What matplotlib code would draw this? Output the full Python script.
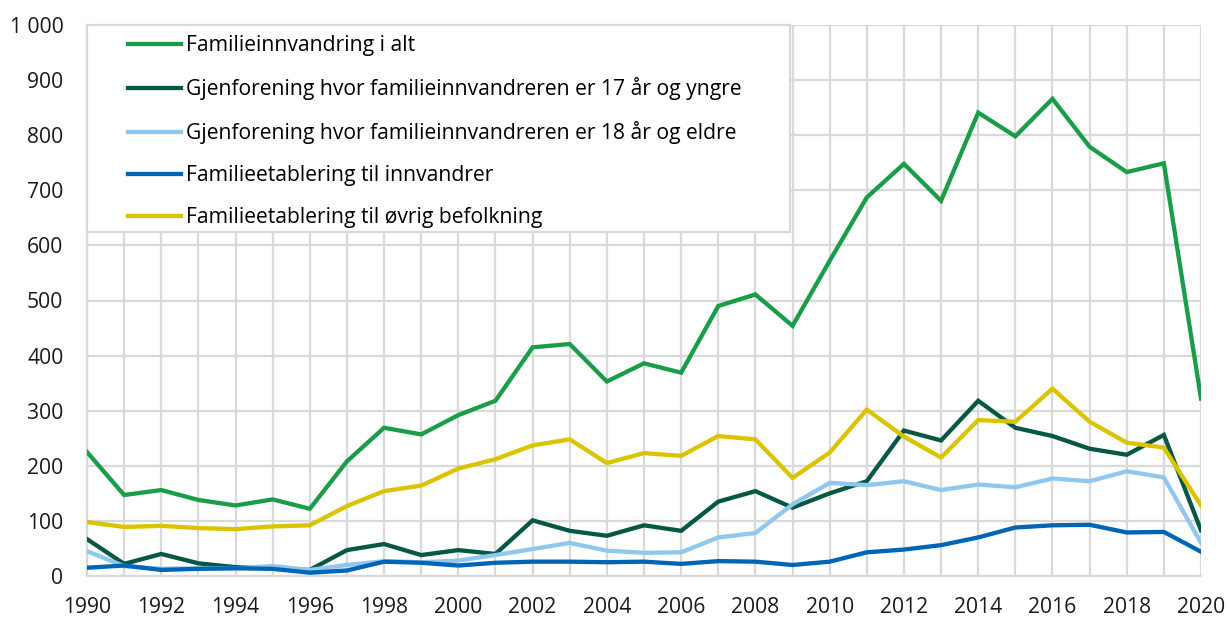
import matplotlib.pyplot as plt
from matplotlib.patches import Rectangle
from matplotlib.lines import Line2D

plt.rcParams['font.family'] = ['Open Sans', 'DejaVu Sans']

years = list(range(1990, 2021))

total = [225, 147, 156, 138, 128, 139, 122, 208, 269, 257, 292, 318, 415, 421, 353,
         386, 369, 490, 511, 454, 572, 687, 748, 681, 841, 798, 866, 779, 733, 749, 322]
under18 = [67, 22, 40, 23, 16, 14, 11, 47, 58, 38, 47, 40, 101, 82, 73,
           92, 82, 135, 154, 124, 150, 172, 264, 246, 318, 269, 254, 231, 220, 256, 83]
over18 = [45, 18, 13, 14, 14, 18, 11, 20, 27, 25, 28, 38, 49, 60, 46,
          42, 43, 70, 78, 130, 169, 165, 172, 156, 166, 161, 177, 172, 190, 179, 60]
to_immigrant = [15, 19, 11, 13, 14, 13, 6, 10, 26, 24, 19, 24, 26, 26, 25,
                26, 22, 27, 26, 20, 26, 43, 48, 56, 70, 88, 92, 93, 79, 80, 44]
to_rest = [98, 89, 91, 87, 85, 90, 92, 127, 154, 164, 195, 212, 237, 248, 205,
           223, 218, 254, 248, 178, 224, 302, 253, 215, 283, 280, 340, 280, 242, 233, 128]

labels = ['Familieinnvandring i alt',
          'Gjenforening hvor familieinnvandreren er 17 år og yngre',
          'Gjenforening hvor familieinnvandreren er 18 år og eldre',
          'Familieetablering til innvandrer',
          'Familieetablering til øvrig befolkning']
colors = ['#1a9d49', '#075745', '#90c7ee', '#0065b5', '#dcc300']
series = [total, under18, over18, to_immigrant, to_rest]

fig = plt.figure(figsize=(12.29, 6.19), dpi=100)
ax = fig.add_axes([87 / 1229, 43 / 619, 1114 / 1229, 551 / 619])

grid_c = '#d9d9d9'
for y, c in zip(series, colors):
    ax.plot(years, y, color=c, lw=3.1, zorder=4, solid_joinstyle='miter')

ax.set_xlim(1990, 2020)
ax.set_ylim(0, 1000)
ax.set_xticks(years)
ax.set_xticklabels([str(y) if y % 2 == 0 else '' for y in years])
ax.set_yticks(range(0, 1001, 100))
ax.set_yticklabels([f'{v:,}'.replace(',', ' ') for v in range(0, 1001, 100)])
ax.grid(True, color=grid_c, lw=1.6)
ax.set_axisbelow(True)
ax.tick_params(length=0, labelsize=15.2, colors='#1a1a1a')
ax.tick_params(axis='x', pad=15)
ax.tick_params(axis='y', pad=17)
for s in ax.spines.values():
    s.set_visible(False)
ax.spines['left'].set_visible(True)
ax.spines['left'].set_color(grid_c)
ax.spines['left'].set_linewidth(1.6)
ax.spines['bottom'].set_visible(True)
ax.spines['bottom'].set_color(grid_c)
ax.spines['bottom'].set_linewidth(1.6)

# legend box
w = (790 - 87) / 1114
h = (232 - 25) / 551
ax.add_patch(Rectangle((0, 1 - h), w, h, transform=ax.transAxes, fc='white',
                       ec=grid_c, lw=1.6, zorder=3, clip_on=False))
handles = [Line2D([], [], color=c, lw=3.1) for c in colors]
ax.legend(handles, labels, loc='upper left', frameon=False,
          bbox_to_anchor=((128 - 87) / 1114, 1 - 10 / 551), borderpad=0,
          borderaxespad=0, fontsize=15.2, handlelength=2.5,
          handletextpad=0.25, labelspacing=1.0)

fig.savefig('out.png', dpi=100)
